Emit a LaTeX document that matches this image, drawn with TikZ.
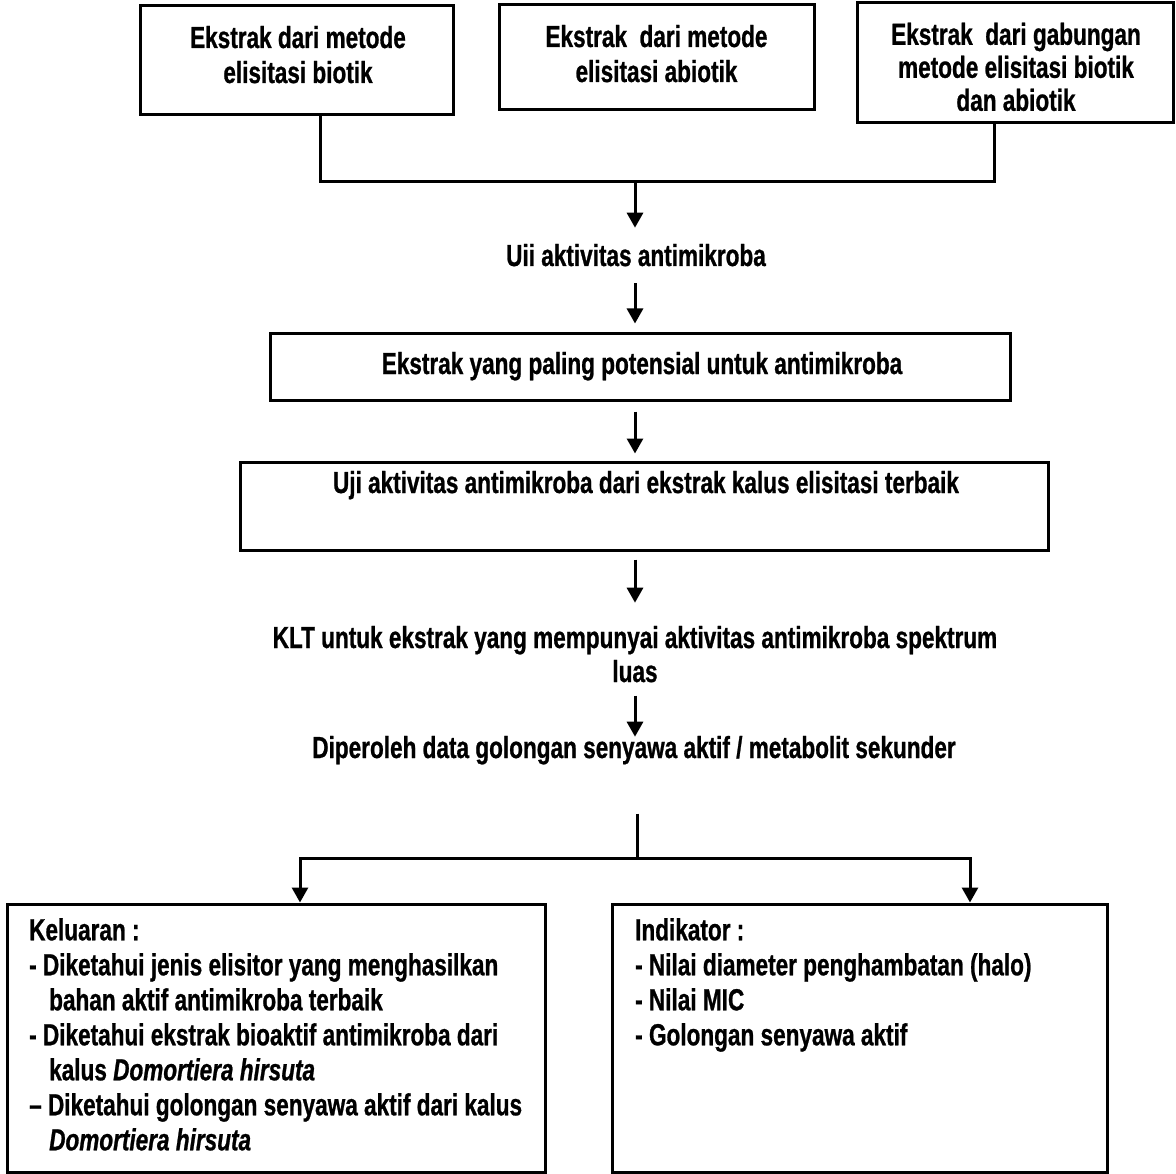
\documentclass[tikz,border=0pt]{standalone}
\usepackage{fontspec}
\setmainfont{Liberation Sans}[FakeStretch=0.74, BoldFeatures={FakeBold=0.8}, BoldItalicFeatures={FakeBold=0.8}]
\usetikzlibrary{arrows.meta}
\begin{document}
\begin{tikzpicture}[x=1pt,y=1pt,
  every node/.style={font=\bfseries\fontsize{30.5pt}{35pt}\selectfont, inner sep=0pt},
  box/.style={draw, line width=3pt, inner sep=0pt},
  txt/.style={align=center},
  ln/.style={line width=3pt},
  arr/.style={line width=3pt, -{Triangle[length=15pt,width=16pt]}}]
\useasboundingbox (0,0) rectangle (1176,-1174);
\fill[white] (0,0) rectangle (1176,-1174);
% top boxes
\node[box, minimum width=313pt, minimum height=109pt] (b1) at (296.5,-60.5) {};
\node[box, minimum width=315pt, minimum height=105pt] (b2) at (656.5,-57.5) {};
\node[box, minimum width=316pt, minimum height=120pt] (b3) at (1015,-63) {};
\node[txt, anchor=north] (t1) at (298,-25.7) {Ekstrak dari metode\\elisitasi biotik};
\node[txt, anchor=north] (t2) at (656.5,-24.7) {Ekstrak~ dari metode\\elisitasi abiotik};
\node[txt, anchor=north] (t3) at (1016,-22.5) {Ekstrak~ dari gabungan\\[-2pt]metode elisitasi biotik\\[-2pt]dan abiotik};
% junction
\coordinate (jl) at (320,-182);
\coordinate (jc) at (635,-182);
\coordinate (jr) at (994,-182);
\draw[ln] (b1.south -| jl) -- (jl) -- (jr) -- (b3.south -| jr);
% middle column
\node (uii) at (636,-266) [anchor=base] {Uii aktivitas antimikroba};
\node[box, minimum width=740pt, minimum height=67pt] (b4) at (640,-367.5) {};
\node (t4) at (642,-374) [anchor=base] {Ekstrak yang paling potensial untuk antimikroba};
\node[box, minimum width=808pt, minimum height=88pt] (b5) at (644,-506) {};
\node (t5) at (646,-493) [anchor=base] {Uji aktivitas antimikroba dari ekstrak kalus elisitasi terbaik};
\node[txt, anchor=north] (klt) at (635,-625.7) {KLT untuk ekstrak yang mempunyai aktivitas antimikroba spektrum\\[-1pt]luas};
\node (dip) at (634,-758) [anchor=base] {Diperoleh data golongan senyawa aktif / metabolit sekunder};
\draw[arr] (jc) -- ([yshift=16pt]uii.north -| jc);
\draw[arr] ([yshift=-17pt]uii.south -| jc) -- ([yshift=9pt]b4.north -| jc);
\draw[arr] ([yshift=-9pt]b4.south -| jc) -- ([yshift=7pt]b5.north -| jc);
\draw[arr] ([yshift=-8pt]b5.south -| jc) -- ([yshift=23pt]klt.north -| jc);
\draw[arr] ([yshift=-13pt]klt.south -| jc) -- ([yshift=-1pt]dip.north -| jc);
% bottom branch
\coordinate (jb) at (637,-858);
\coordinate (jbl) at (300,-858);
\coordinate (jbr) at (970,-858);
\node[box, minimum width=538pt, minimum height=268pt] (bl) at (276,-1038) {};
\node[box, minimum width=495pt, minimum height=268pt] (br) at (859.5,-1038) {};
\draw[ln] ([yshift=-49pt]dip.south -| jb) -- (jb);
\draw[arr] (jb) -- (jbl) -- (bl.north -| jbl);
\draw[arr] (jb) -- (jbr) -- (br.north -| jbr);
\node[anchor=north west, align=left] (kel) at (29,-918) {Keluaran :\\
- Diketahui jenis elisitor yang menghasilkan\\
\hspace*{20pt}bahan aktif antimikroba terbaik\\
- Diketahui ekstrak bioaktif antimikroba dari\\
\hspace*{20pt}kalus \textit{Domortiera hirsuta}\\
– Diketahui golongan senyawa aktif dari kalus\\
\hspace*{20pt}\textit{Domortiera hirsuta}};
\node[anchor=north west, align=left] (ind) at (635,-918) {Indikator :\\
- Nilai diameter penghambatan (halo)\\
- Nilai MIC\\
- Golongan senyawa aktif};
\end{tikzpicture}
\end{document}
